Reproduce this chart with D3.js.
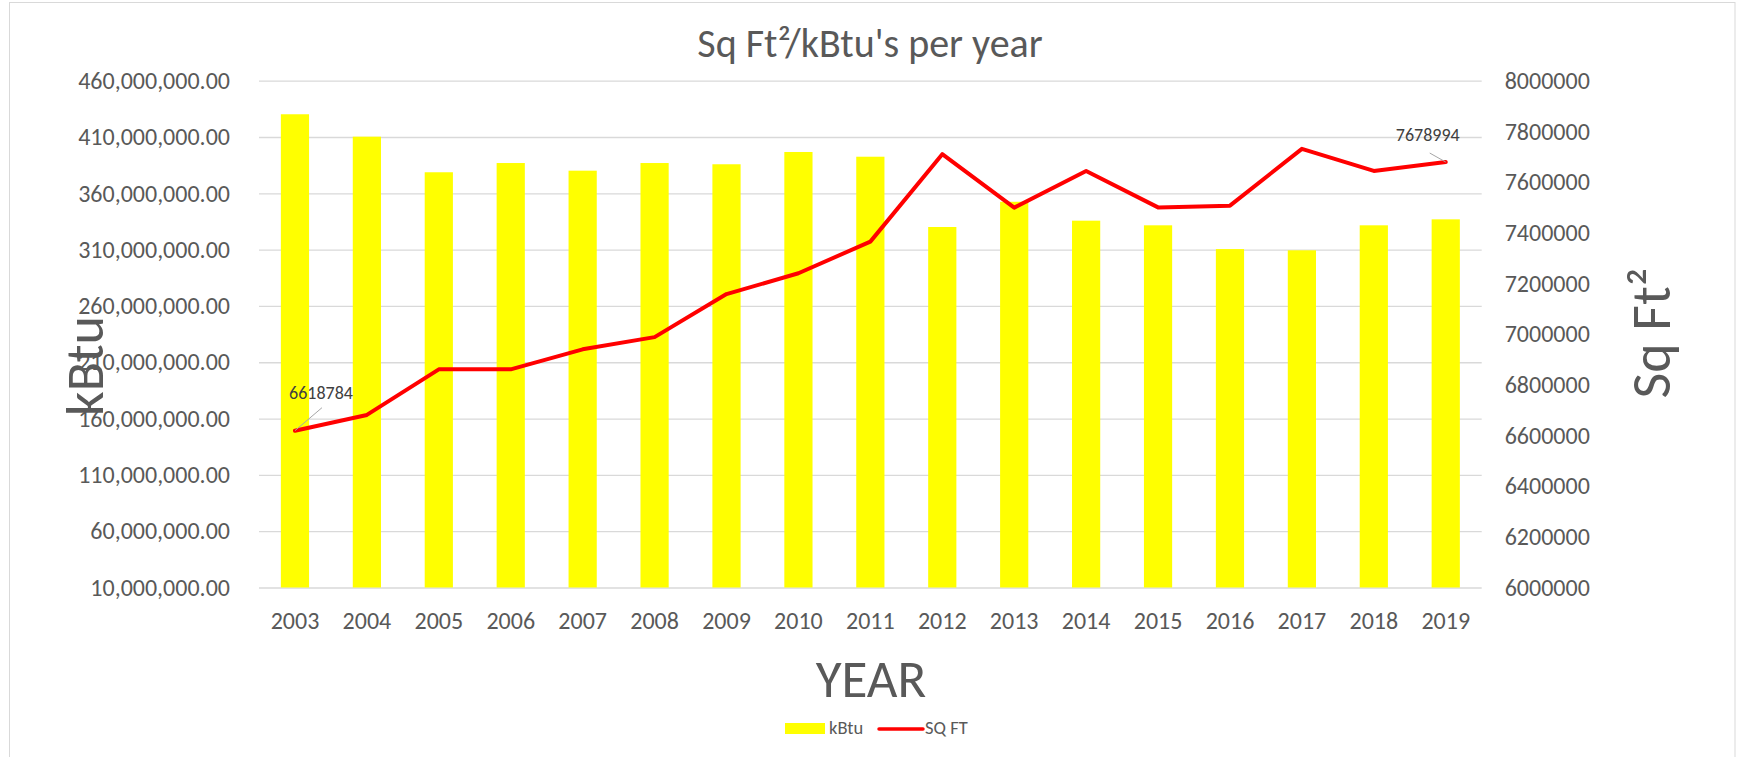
<!DOCTYPE html>
<html>
<head>
<meta charset="utf-8">
<script src="https://cdn.jsdelivr.net/npm/d3@7/dist/d3.min.js"></script>
<style>
  body { margin: 0; background: #fff; }
  svg text { font-family: Calibri, Carlito, Lato, sans-serif; fill: #595959; }
</style>
</head>
<body>
<div id="chart"></div>
<script>
// data
var years = ["2003", "2004", "2005", "2006", "2007", "2008", "2009", "2010", "2011",
             "2012", "2013", "2014", "2015", "2016", "2017", "2018", "2019"];
var kbtu = [430.2e6, 410.3e6, 378.7e6, 386.9e6, 380.1e6, 386.9e6, 385.8e6, 396.7e6, 392.5e6,
            330.1e6, 352.5e6, 335.7e6, 331.6e6, 310.5e6, 309.4e6, 331.6e6, 336.9e6];
var sqft = [6618784, 6681000, 6861000, 6861000, 6940000, 6988000, 7158000, 7240000, 7365000,
            7710000, 7499000, 7644000, 7500000, 7507000, 7731000, 7644000, 7678994];
var kbtuTicks = d3.range(10e6, 460e6 + 1, 50e6);
var sqftTicks = d3.range(6e6, 8e6 + 1, 2e5);
var labelled = ["2003", "2019"];

var W = 1741, H = 757;
var plot = { left: 259, right: 1481.7, top: 80.7, bottom: 587.5 };

var svg = d3.select("#chart").append("svg")
    .attr("width", W)
    .attr("height", H);

// chart border
svg.append("rect")
    .attr("x", 9.5).attr("y", 2.5)
    .attr("width", 1725.5).attr("height", 800)
    .attr("fill", "none")
    .attr("stroke", "#d9d9d9");

var x = d3.scaleBand().domain(years).range([plot.left, plot.right]);
var yL = d3.scaleLinear().domain([10e6, 460e6]).range([plot.bottom, plot.top]);
var yR = d3.scaleLinear().domain([6e6, 8e6]).range([plot.bottom, plot.top]);
var barW = x.bandwidth() / 2.55;
var cx = function (yr) { return x(yr) + x.bandwidth() / 2; };

// gridlines
svg.append("g")
    .attr("class", "grid")
    .attr("transform", "translate(" + plot.left + ",0)")
    .call(d3.axisLeft(yL).tickValues(kbtuTicks).tickSize(-(plot.right - plot.left)).tickFormat(""))
    .call(function (g) { g.select(".domain").remove(); })
    .selectAll("line").attr("stroke", "#d9d9d9").attr("stroke-width", 1.3);

// left axis
svg.append("g")
    .attr("transform", "translate(" + plot.left + ",0)")
    .call(d3.axisLeft(yL).tickValues(kbtuTicks).tickFormat(d3.format(",.2f")).tickSize(0).tickPadding(29))
    .call(function (g) { g.select(".domain").remove(); })
    .selectAll("text").style("font-size", "24px").attr("fill", "#595959");

// right axis
svg.append("g")
    .attr("transform", "translate(" + plot.right + ",0)")
    .call(d3.axisRight(yR).tickValues(sqftTicks).tickFormat(d3.format("d")).tickSize(0).tickPadding(23))
    .call(function (g) { g.select(".domain").remove(); })
    .selectAll("text").style("font-size", "24px").attr("fill", "#595959");

// bottom axis
svg.append("g")
    .attr("transform", "translate(0," + plot.bottom + ")")
    .call(d3.axisBottom(x).tickSize(0).tickPadding(24))
    .call(function (g) { g.select(".domain").remove(); })
    .selectAll("text").style("font-size", "24px").attr("fill", "#595959");

// bars
svg.selectAll(".bar")
    .data(years)
    .enter().append("rect")
    .attr("class", "bar")
    .attr("x", function (d) { return cx(d) - barW / 2; })
    .attr("width", barW)
    .attr("y", function (d, i) { return yL(kbtu[i]); })
    .attr("height", function (d, i) { return plot.bottom - yL(kbtu[i]); })
    .attr("fill", "#ffff00");

// line
var line = d3.line()
    .x(function (d) { return cx(d); })
    .y(function (d, i) { return yR(sqft[i]); });

svg.append("path")
    .datum(years)
    .attr("d", line)
    .attr("fill", "none")
    .attr("stroke", "#ff0000")
    .attr("stroke-width", 4)
    .attr("stroke-linejoin", "round")
    .attr("stroke-linecap", "round");

// data labels with leader lines
var labelOff = { "2003": { dx: 26, dy: -32, lx: 27, ly: -23 }, "2019": { dx: -18, dy: -21, lx: -16, ly: -9 } };
labelled.forEach(function (yr) {
    var i = years.indexOf(yr), o = labelOff[yr];
    var px = cx(yr), py = yR(sqft[i]);
    svg.append("line")
        .attr("x1", px).attr("y1", py)
        .attr("x2", px + o.lx).attr("y2", py + o.ly)
        .attr("stroke", "#a6a6a6").attr("stroke-width", 1);
    svg.append("text")
        .attr("x", px + o.dx).attr("y", py + o.dy)
        .attr("text-anchor", "middle")
        .style("font-size", "18px")
        .style("fill", "#404040")
        .text(sqft[i]);
});

// title
svg.append("text")
    .attr("x", 870).attr("y", 56.5)
    .attr("text-anchor", "middle")
    .style("font-size", "40px")
    .text("Sq Ft\u00b2/kBtu's per year");

// axis titles
svg.append("text")
    .attr("x", 871).attr("y", 697)
    .attr("text-anchor", "middle")
    .style("font-size", "53px")
    .text("YEAR");

svg.append("text")
    .attr("transform", "translate(103,366) rotate(-90)")
    .attr("text-anchor", "middle")
    .style("font-size", "54px")
    .text("kBtu");

svg.append("text")
    .attr("transform", "translate(1670,333) rotate(-90)")
    .attr("text-anchor", "middle")
    .style("font-size", "56px")
    .text("Sq Ft\u00b2");

// legend
var leg = svg.append("g");
leg.append("rect")
    .attr("x", 785).attr("y", 723)
    .attr("width", 40).attr("height", 11)
    .attr("fill", "#ffff00");
leg.append("text")
    .attr("x", 829).attr("y", 734)
    .style("font-size", "18.5px")
    .text("kBtu");
leg.append("line")
    .attr("x1", 879).attr("x2", 923)
    .attr("y1", 729).attr("y2", 729)
    .attr("stroke", "#ff0000").attr("stroke-width", 3.5)
    .attr("stroke-linecap", "round");
leg.append("text")
    .attr("x", 925).attr("y", 734)
    .style("font-size", "18.5px")
    .text("SQ FT");
</script>
</body>
</html>
